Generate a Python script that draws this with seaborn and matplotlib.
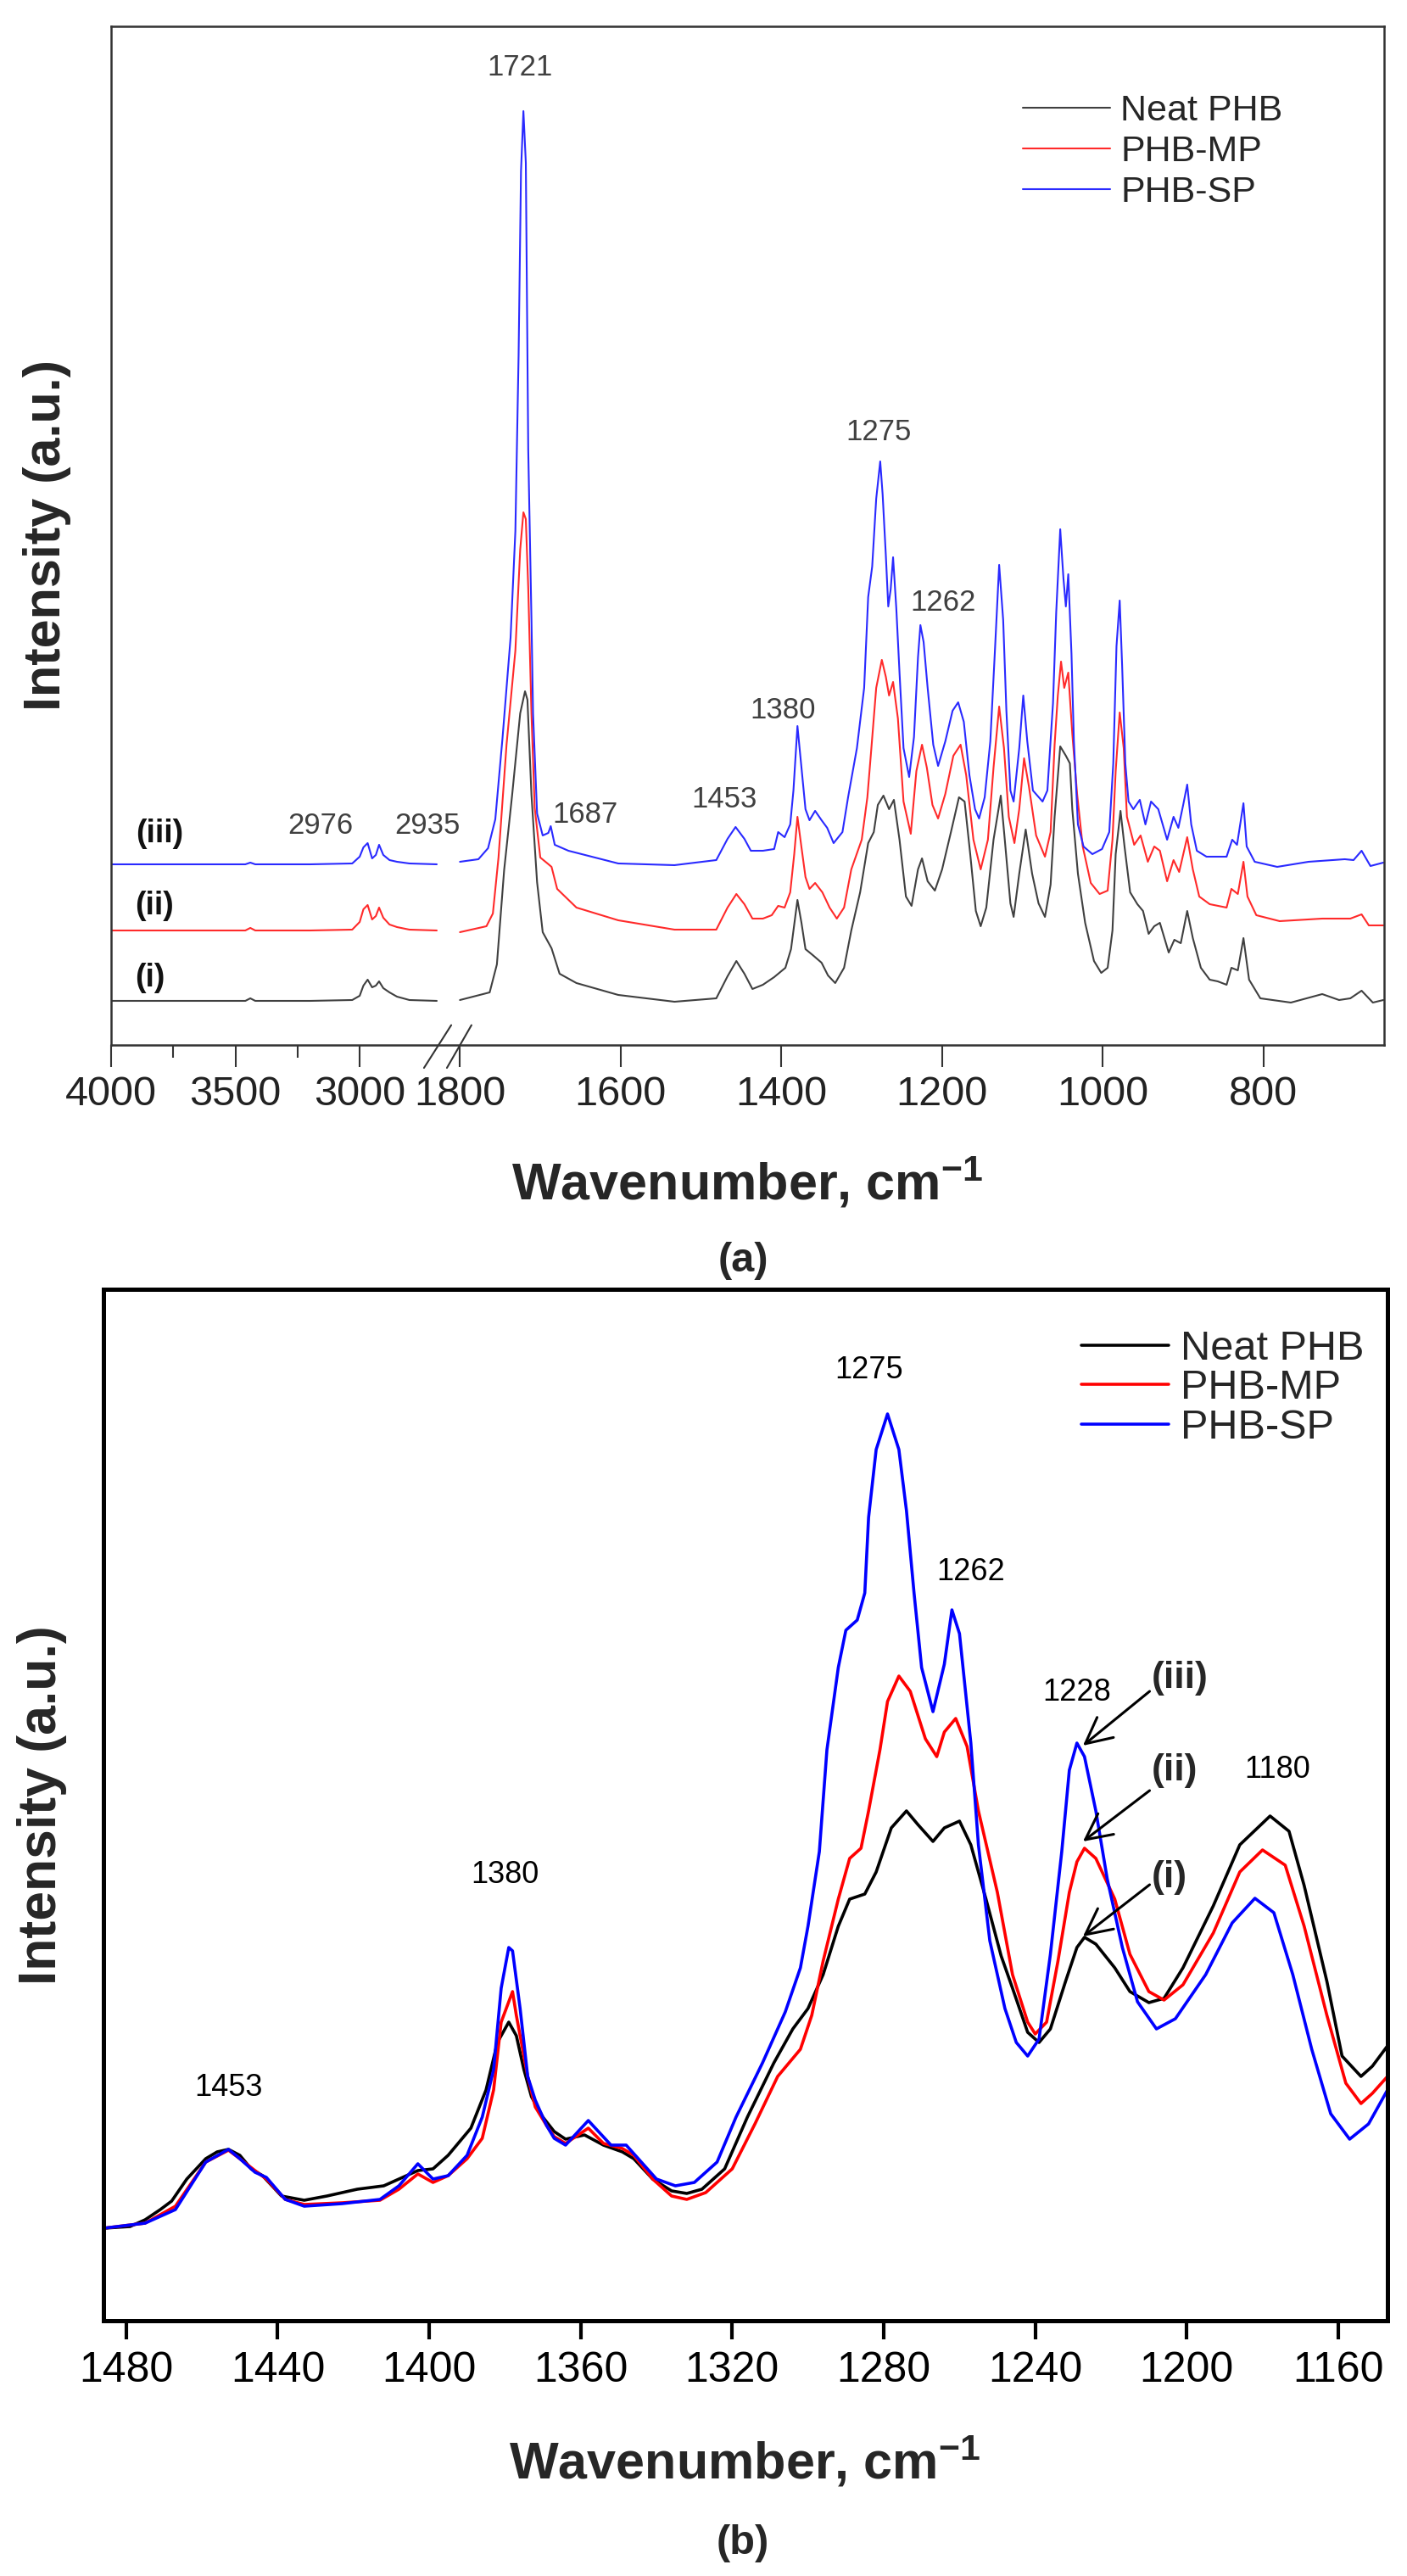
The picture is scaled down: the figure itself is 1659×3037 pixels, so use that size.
import numpy as np
import pandas as pd
import seaborn as sns
import matplotlib.pyplot as plt

SAMPLES = ["Neat PHB", "PHB-MP", "PHB-SP"]

# ---- panel (a): full spectra (a.u.) ----
# left part of the broken axis (4000 - ~2700 cm-1)
A_LEFT_WN = [4000, 3700, 3460, 3440, 3420, 3200, 3030, 3000, 2985, 2968,
             2950, 2935, 2922, 2905, 2880, 2850, 2800, 2690]
A_LEFT_NEAT = [0.52, 0.52, 0.52, 0.55, 0.52, 0.52, 0.53, 0.58, 0.70, 0.77,
               0.68, 0.70, 0.75, 0.67, 0.62, 0.57, 0.53, 0.52]
A_LEFT_MP = [1.35, 1.35, 1.35, 1.38, 1.35, 1.35, 1.36, 1.45, 1.60, 1.65,
             1.48, 1.52, 1.62, 1.50, 1.42, 1.39, 1.36, 1.35]
A_LEFT_SP = [2.13, 2.13, 2.13, 2.15, 2.13, 2.13, 2.14, 2.22, 2.33, 2.38,
             2.20, 2.24, 2.36, 2.24, 2.18, 2.16, 2.14, 2.13]

# right part (1800 - 650 cm-1)
A_NEAT_WN = [1800, 1763, 1754, 1745, 1735, 1725, 1719, 1716, 1711, 1704,
             1697, 1686, 1676, 1655, 1603, 1533, 1481, 1467, 1456, 1446,
             1436, 1423, 1409, 1395, 1388, 1380, 1375, 1370, 1361, 1350,
             1342, 1333, 1322, 1313, 1302, 1292, 1285, 1280, 1273, 1266,
             1260, 1253, 1245, 1238, 1230, 1225, 1218, 1209, 1200, 1189,
             1179, 1172, 1165, 1158, 1152, 1145, 1136, 1127, 1122, 1115,
             1111, 1104, 1096, 1088, 1080, 1072, 1065, 1060, 1053, 1046,
             1041, 1038, 1031, 1022, 1011, 1002, 994, 988, 984, 978,
             973, 966, 957, 950, 943, 936, 929, 918, 911, 903,
             895, 888, 878, 867, 857, 846, 840, 832, 825, 818,
             804, 766, 727, 706, 692, 678, 664, 651]
A_NEAT = [0.53, 0.62, 0.95, 2.06, 2.95, 3.91, 4.17, 4.07, 2.95, 1.92,
          1.33, 1.14, 0.84, 0.73, 0.59, 0.51, 0.55, 0.81, 0.99, 0.84,
          0.66, 0.71, 0.80, 0.91, 1.13, 1.71, 1.44, 1.13, 1.06, 0.97,
          0.82, 0.73, 0.91, 1.35, 1.80, 2.38, 2.51, 2.83, 2.94, 2.78,
          2.89, 2.42, 1.75, 1.64, 2.07, 2.20, 1.93, 1.82, 2.07, 2.51,
          2.92, 2.87, 2.25, 1.58, 1.40, 1.62, 2.42, 2.94, 2.42, 1.67,
          1.51, 2.02, 2.54, 2.02, 1.67, 1.51, 1.89, 2.69, 3.52, 3.41,
          3.32, 2.78, 2.02, 1.44, 0.99, 0.85, 0.91, 1.35, 2.25, 2.76,
          2.34, 1.80, 1.66, 1.58, 1.31, 1.40, 1.44, 1.09, 1.24, 1.20,
          1.58, 1.26, 0.91, 0.77, 0.75, 0.71, 0.91, 0.88, 1.26, 0.77,
          0.55, 0.50, 0.60, 0.53, 0.55, 0.64, 0.50, 0.53]

A_MP_WN = [1800, 1767, 1759, 1752, 1742, 1731, 1725, 1721, 1718, 1715,
           1711, 1707, 1700, 1691, 1686, 1679, 1655, 1603, 1533, 1481,
           1467, 1456, 1446, 1436, 1423, 1412, 1404, 1396, 1389, 1384,
           1380, 1375, 1370, 1365, 1358, 1349, 1340, 1331, 1322, 1313,
           1300, 1293, 1288, 1282, 1275, 1270, 1266, 1261, 1255, 1248,
           1239, 1232, 1225, 1219, 1212, 1205, 1196, 1186, 1177, 1170,
           1161, 1152, 1143, 1136, 1129, 1123, 1117, 1110, 1104, 1098,
           1092, 1083, 1072, 1065, 1060, 1056, 1052, 1048, 1043, 1038,
           1032, 1025, 1015, 1004, 994, 988, 984, 979, 974, 970,
           961, 953, 944, 936, 929, 920, 912, 905, 895, 888,
           880, 867, 846, 840, 832, 825, 820, 809, 780, 727,
           692, 678, 669, 651]
A_MP = [1.33, 1.40, 1.55, 2.21, 3.54, 4.65, 5.84, 6.28, 6.20, 5.39,
        3.91, 2.80, 2.21, 2.14, 2.10, 1.84, 1.62, 1.47, 1.36, 1.36,
        1.62, 1.78, 1.66, 1.49, 1.49, 1.53, 1.64, 1.62, 1.80, 2.25,
        2.69, 2.33, 1.98, 1.84, 1.91, 1.80, 1.62, 1.49, 1.62, 2.07,
        2.42, 2.92, 3.50, 4.21, 4.54, 4.34, 4.12, 4.28, 3.85, 2.87,
        2.49, 3.23, 3.54, 3.27, 2.83, 2.67, 2.96, 3.41, 3.54, 3.18,
        2.42, 2.07, 2.42, 3.27, 3.99, 3.50, 2.69, 2.38, 2.78, 3.38,
        3.05, 2.47, 2.22, 2.51, 3.54, 4.12, 4.52, 4.21, 4.39, 3.67,
        2.96, 2.34, 1.91, 1.78, 1.82, 2.42, 3.23, 3.92, 3.50, 2.69,
        2.36, 2.47, 2.16, 2.34, 2.29, 1.93, 2.18, 2.04, 2.45, 2.07,
        1.75, 1.66, 1.62, 1.84, 1.78, 2.16, 1.75, 1.53, 1.46, 1.49,
        1.49, 1.54, 1.41, 1.41]

A_SP_WN = [1800, 1777, 1765, 1756, 1747, 1737, 1731, 1727, 1724, 1721,
           1718, 1715, 1711, 1709, 1704, 1697, 1690, 1687, 1682, 1665,
           1603, 1533, 1481, 1467, 1457, 1446, 1438, 1423, 1409, 1404,
           1396, 1389, 1385, 1380, 1375, 1370, 1365, 1358, 1350, 1343,
           1335, 1324, 1317, 1306, 1297, 1292, 1287, 1282, 1277, 1274,
           1270, 1267, 1264, 1261, 1257, 1253, 1248, 1241, 1235, 1230,
           1227, 1223, 1218, 1211, 1205, 1196, 1187, 1180, 1173, 1166,
           1159, 1154, 1147, 1140, 1134, 1129, 1124, 1120, 1115, 1111,
           1104, 1099, 1094, 1087, 1075, 1069, 1062, 1058, 1053, 1049,
           1046, 1043, 1039, 1036, 1031, 1024, 1013, 1001, 992, 987,
           983, 979, 976, 972, 968, 962, 954, 947, 940, 931,
           920, 912, 906, 900, 895, 890, 883, 871, 846, 839,
           833, 825, 821, 811, 783, 744, 699, 688, 678, 667,
           651]
A_SP = [2.16, 2.19, 2.32, 2.66, 3.62, 4.80, 6.06, 8.13, 10.30, 11.01,
        10.40, 7.02, 5.02, 3.91, 2.73, 2.47, 2.50, 2.58, 2.36, 2.29,
        2.14, 2.12, 2.18, 2.43, 2.57, 2.43, 2.29, 2.29, 2.31, 2.51,
        2.45, 2.60, 3.00, 3.76, 3.27, 2.78, 2.65, 2.76, 2.65, 2.56,
        2.38, 2.51, 2.92, 3.50, 4.21, 5.28, 5.64, 6.44, 6.88, 6.49,
        5.77, 5.17, 5.37, 5.75, 5.15, 4.39, 3.50, 3.16, 3.63, 4.57,
        4.95, 4.75, 4.21, 3.54, 3.29, 3.58, 3.94, 4.04, 3.81, 3.18,
        2.78, 2.67, 2.92, 3.58, 4.70, 5.66, 5.01, 3.94, 3.00, 2.87,
        3.50, 4.12, 3.58, 3.00, 2.87, 3.00, 4.03, 5.10, 6.08, 5.50,
        5.17, 5.55, 4.61, 3.58, 2.60, 2.34, 2.25, 2.31, 2.51, 3.32,
        4.70, 5.24, 4.48, 3.32, 2.87, 2.78, 2.89, 2.60, 2.87, 2.78,
        2.42, 2.69, 2.56, 2.83, 3.07, 2.60, 2.29, 2.22, 2.22, 2.42,
        2.36, 2.85, 2.34, 2.16, 2.10, 2.16, 2.19, 2.18, 2.29, 2.11,
        2.15]

A_TICKS = [4000, 3500, 3000, 1800, 1600, 1400, 1200, 1000, 800]
A_MINOR = [3750, 3250]
A_PEAKS = ["1721", "1275", "1262", "1380", "1453", "1687", "2976", "2935"]
A_PEAK_X = [1725, 1279, 1199, 1398, 1471, 1644, 3159, 2726]
A_PEAK_Y = [11.52, 7.22, 5.21, 3.94, 2.89, 2.71, 2.58, 2.58]
A_CURVE_TAGS = ["(iii)", "(ii)", "(i)"]
A_TAG_X = [3806, 3826, 3844]
A_TAG_Y = [2.49, 1.64, 0.79]

# ---- panel (b): zoom 1486 - 1147 cm-1 ----
B_NEAT_WN = [1486, 1479, 1475, 1471, 1468, 1464, 1459, 1456, 1453, 1450,
             1447, 1444, 1439, 1433, 1427, 1419, 1412, 1406, 1403, 1399,
             1395, 1389, 1385, 1382, 1379, 1377, 1375, 1373, 1370, 1367,
             1364, 1359, 1354, 1349, 1346, 1341, 1336, 1332, 1328, 1322,
             1316, 1309, 1304, 1300, 1296, 1292, 1289, 1285, 1282, 1278,
             1274, 1271, 1267, 1264, 1260, 1257, 1253, 1249, 1246, 1242,
             1239, 1236, 1232, 1229, 1227, 1224, 1219, 1215, 1210, 1206,
             1201, 1193, 1186, 1178, 1173, 1169, 1163, 1159, 1154, 1151,
             1147]
B_NEAT = [1.09, 1.11, 1.19, 1.31, 1.41, 1.67, 1.91, 1.99, 2.02, 1.95,
          1.79, 1.71, 1.47, 1.42, 1.47, 1.55, 1.59, 1.71, 1.77, 1.79,
          1.95, 2.27, 2.72, 3.28, 3.52, 3.36, 2.96, 2.64, 2.40, 2.23,
          2.14, 2.19, 2.07, 1.99, 1.91, 1.67, 1.53, 1.50, 1.55, 1.79,
          2.40, 3.04, 3.44, 3.68, 4.08, 4.65, 4.97, 5.03, 5.29, 5.81,
          6.01, 5.85, 5.65, 5.81, 5.89, 5.61, 4.97, 4.30, 3.92, 3.40,
          3.28, 3.44, 4.00, 4.40, 4.52, 4.44, 4.16, 3.88, 3.75, 3.80,
          4.16, 4.89, 5.61, 5.95, 5.77, 5.13, 4.00, 3.12, 2.88, 3.00,
          3.24]

B_MP_WN = [1486, 1475, 1467, 1459, 1453, 1450, 1446, 1443, 1438, 1433,
           1423, 1413, 1408, 1403, 1399, 1395, 1390, 1386, 1383, 1381,
           1378, 1377, 1374, 1372, 1369, 1367, 1364, 1358, 1354, 1349,
           1346, 1341, 1336, 1332, 1327, 1320, 1314, 1308, 1302, 1299,
           1296, 1292, 1289, 1286, 1284, 1281, 1279, 1276, 1273, 1269,
           1266, 1264, 1261, 1258, 1255, 1250, 1246, 1242, 1240, 1237,
           1234, 1231, 1229, 1227, 1224, 1219, 1215, 1210, 1206, 1201,
           1193, 1186, 1180, 1174, 1169, 1163, 1158, 1154, 1151, 1147]
B_MP = [1.09, 1.15, 1.35, 1.87, 2.01, 1.91, 1.77, 1.67, 1.43, 1.37,
        1.39, 1.42, 1.55, 1.73, 1.63, 1.71, 1.91, 2.15, 2.72, 3.52,
        3.88, 3.60, 2.88, 2.52, 2.30, 2.17, 2.09, 2.27, 2.09, 2.03,
        1.95, 1.67, 1.47, 1.43, 1.51, 1.79, 2.32, 2.88, 3.20, 3.60,
        4.24, 4.97, 5.45, 5.57, 6.01, 6.73, 7.30, 7.60, 7.42, 6.86,
        6.65, 6.94, 7.10, 6.77, 6.01, 5.05, 4.08, 3.52, 3.38, 3.52,
        4.24, 5.05, 5.41, 5.57, 5.45, 4.97, 4.32, 3.88, 3.78, 3.96,
        4.57, 5.29, 5.55, 5.37, 4.65, 3.60, 2.80, 2.56, 2.68, 2.88]

B_SP_WN = [1486, 1475, 1467, 1459, 1453, 1450, 1446, 1443, 1438, 1433,
           1423, 1413, 1408, 1403, 1399, 1395, 1390, 1386, 1383, 1381,
           1379, 1378, 1376, 1374, 1372, 1369, 1367, 1364, 1358, 1352,
           1348, 1344, 1340, 1335, 1330, 1324, 1319, 1312, 1306, 1302,
           1300, 1297, 1295, 1292, 1290, 1287, 1285, 1284, 1282, 1279,
           1276, 1274, 1272, 1270, 1267, 1264, 1262, 1260, 1257, 1255,
           1252, 1248, 1245, 1242, 1239, 1236, 1233, 1231, 1229, 1227,
           1224, 1221, 1217, 1213, 1208, 1203, 1195, 1188, 1182, 1177,
           1172, 1167, 1162, 1157, 1152, 1147]
B_SP = [1.09, 1.15, 1.31, 1.87, 2.02, 1.91, 1.75, 1.69, 1.43, 1.35,
        1.38, 1.43, 1.59, 1.85, 1.67, 1.71, 1.95, 2.40, 2.96, 3.92,
        4.40, 4.36, 3.68, 2.88, 2.60, 2.30, 2.15, 2.07, 2.36, 2.07,
        2.07, 1.87, 1.67, 1.59, 1.63, 1.87, 2.40, 3.04, 3.64, 4.16,
        4.65, 5.53, 6.73, 7.70, 8.14, 8.26, 8.58, 9.47, 10.27, 10.69,
        10.27, 9.55, 8.58, 7.70, 7.18, 7.74, 8.38, 8.10, 6.81, 5.61,
        4.48, 3.68, 3.28, 3.12, 3.32, 4.32, 5.53, 6.49, 6.81, 6.65,
        6.01, 5.21, 4.40, 3.76, 3.44, 3.56, 4.08, 4.69, 4.98, 4.81,
        4.08, 3.20, 2.44, 2.14, 2.32, 2.72]

B_TICKS = [1480, 1440, 1400, 1360, 1320, 1280, 1240, 1200, 1160]
B_PEAKS = ["1453", "1380", "1275", "1262", "1228", "1180"]
B_PEAK_X = [1453, 1380, 1284, 1257, 1229, 1176]
B_PEAK_Y = [2.74, 5.25, 11.20, 8.82, 7.40, 6.49]
B_TAGS = ["(iii)", "(ii)", "(i)"]
B_TAG_X = [1209.4, 1209.4, 1209.4]
B_TAG_Y = [7.57, 6.48, 5.22]
B_ARROW_TAIL_Y = [7.42, 6.25, 5.14]
B_ARROW_HEAD_Y = [6.78, 5.65, 4.53]

# broken axis of panel (a): 4000-2640 squeezed, gap collapsed, 1812-650 wide
B_LO, B_HI = 1812.5, 2640.0
K_LEFT, K_RIGHT, EPS = 0.2935, 0.9488, 1e-3
GAP = (B_HI - B_LO) * EPS


def fwd(w):
    w = np.asarray(w, dtype=float)
    return np.where(w >= B_HI, GAP + (w - B_HI) * K_LEFT,
                    np.where(w > B_LO, (w - B_LO) * EPS, (w - B_LO) * K_RIGHT))


def inv(u):
    u = np.asarray(u, dtype=float)
    return np.where(u >= GAP, B_HI + (u - GAP) / K_LEFT,
                    np.where(u > 0, B_LO + u / EPS, B_LO + u / K_RIGHT))


def long_frame(parts):
    rows = []
    for sample, seg, wn, vals in parts:
        for w, v in zip(wn, vals):
            rows.append((sample, seg, w, v))
    return pd.DataFrame(rows, columns=["sample", "seg", "wn", "intensity"])


df_a = long_frame([
    ("Neat PHB", 0, A_LEFT_WN, A_LEFT_NEAT), ("Neat PHB", 1, A_NEAT_WN, A_NEAT),
    ("PHB-MP", 0, A_LEFT_WN, A_LEFT_MP), ("PHB-MP", 1, A_MP_WN, A_MP),
    ("PHB-SP", 0, A_LEFT_WN, A_LEFT_SP), ("PHB-SP", 1, A_SP_WN, A_SP),
])
df_b = long_frame([
    ("Neat PHB", 0, B_NEAT_WN, B_NEAT),
    ("PHB-MP", 0, B_MP_WN, B_MP),
    ("PHB-SP", 0, B_SP_WN, B_SP),
])

sns.set_theme(style="ticks")
plt.rcParams["font.family"] = ["Liberation Sans", "DejaVu Sans"]
plt.rcParams["mathtext.fontset"] = "custom"
plt.rcParams["mathtext.rm"] = "Liberation Sans"
plt.rcParams["mathtext.bf"] = "Liberation Sans:bold"
plt.rcParams["mathtext.it"] = "Liberation Sans:italic"

fig = plt.figure(figsize=(16.59, 30.37), dpi=100)
ax_a = fig.add_axes([0.07896, 0.59434, 0.90476, 0.39546])
ax_b = fig.add_axes([0.07354, 0.09911, 0.91260, 0.40040])

# ---------------- panel (a) ----------------
pal_a = {"Neat PHB": "#404040", "PHB-MP": "#ff2a2a", "PHB-SP": "#2a2aff"}
sns.lineplot(data=df_a, x="wn", y="intensity", hue="sample", hue_order=SAMPLES,
             units="seg", estimator=None, sort=False, palette=pal_a,
             linewidth=1.5, ax=ax_a)
ax_a.set_xscale("function", functions=(fwd, inv))
ax_a.set_xlim(4000, 650)
ax_a.set_ylim(0, 12.01)
ax_a.set_xticks(A_TICKS)
ax_a.set_xticklabels([str(t) for t in A_TICKS])
ax_a.set_xticks(A_MINOR, minor=True)
ax_a.set_yticks([])
ax_a.tick_params(axis="x", which="major", direction="out", length=19, width=1.5,
                 pad=7, labelsize=35, color="#333333", labelcolor="#222222")
ax_a.tick_params(axis="x", which="minor", direction="out", length=11, width=1.5,
                 color="#333333")
for sp in ax_a.spines.values():
    sp.set_linewidth(1.8)
    sp.set_color("#333333")

ax_a.set_xlabel(r"Wavenumber, cm$^{\mathbf{-1}}$", fontsize=44, fontweight="bold")
ax_a.xaxis.label.set_va("center")
ax_a.xaxis.set_label_coords(0.5, -0.1357)
ax_a.set_ylabel("Intensity (a.u.)", fontsize=44, fontweight="bold")
ax_a.yaxis.label.set_va("center")
ax_a.yaxis.set_label_coords(-0.0506, 0.5)

for lab, x, y in zip(A_PEAKS, A_PEAK_X, A_PEAK_Y):
    ax_a.text(x, y, lab, fontsize=25, color="#404040", ha="center", va="center")
for lab, x, y in zip(A_CURVE_TAGS, A_TAG_X, A_TAG_Y):
    ax_a.text(x, y, lab, fontsize=27, fontweight="bold", color="#111111",
              ha="center", va="center")

# break marks on the bottom axis
for x0, x1 in [(0.2458, 0.2672), (0.2638, 0.2831)]:
    ax_a.plot([x0, x1], [-0.0225, 0.0195], transform=ax_a.transAxes,
              color="#333333", lw=1.5, clip_on=False)

sns.move_legend(ax_a, "upper left", bbox_to_anchor=(0.7162, 0.9334),
                frameon=False, title=None, fontsize=31, borderpad=0,
                borderaxespad=0, handlelength=2.4, handletextpad=0.28,
                labelspacing=0.19)

# ---------------- panel (b) ----------------
pal_b = {"Neat PHB": "#000000", "PHB-MP": "#ff0000", "PHB-SP": "#0000ff"}
sns.lineplot(data=df_b, x="wn", y="intensity", hue="sample", hue_order=SAMPLES,
             estimator=None, sort=False, palette=pal_b, linewidth=2.6, ax=ax_b)
ax_b.set_xlim(1486, 1147)
ax_b.set_ylim(0, 12.16)
ax_b.set_xticks(B_TICKS)
ax_b.set_xticklabels([str(t) for t in B_TICKS])
ax_b.set_yticks([])
ax_b.tick_params(axis="x", direction="out", length=16, width=3, pad=10,
                 labelsize=36, color="black", labelcolor="black")
for sp in ax_b.spines.values():
    sp.set_linewidth(3.6)
    sp.set_color("black")

ax_b.set_xlabel(r"Wavenumber, cm$^{\mathbf{-1}}$", fontsize=44, fontweight="bold")
ax_b.xaxis.label.set_va("center")
ax_b.xaxis.set_label_coords(0.4993, -0.1373)
ax_b.set_ylabel("Intensity (a.u.)", fontsize=45, fontweight="bold")
ax_b.yaxis.label.set_va("center")
ax_b.yaxis.set_label_coords(-0.0476, 0.5)

for lab, x, y in zip(B_PEAKS, B_PEAK_X, B_PEAK_Y):
    ax_b.text(x, y, lab, fontsize=26, color="black", ha="center", va="center")
for lab, x, y, ty, hy in zip(B_TAGS, B_TAG_X, B_TAG_Y, B_ARROW_TAIL_Y, B_ARROW_HEAD_Y):
    ax_b.text(x, y, lab, fontsize=32, fontweight="bold", ha="left", va="center")
    ax_b.annotate("", xy=(1227.4, hy), xytext=(1209.8, ty),
                  arrowprops=dict(arrowstyle="->", color="black", lw=2.2,
                                  mutation_scale=55, shrinkA=0, shrinkB=0))

sns.move_legend(ax_b, "upper left", bbox_to_anchor=(0.7616, 0.9605),
                frameon=False, title=None, fontsize=35, borderpad=0,
                borderaxespad=0, handlelength=2.12, handletextpad=0.29,
                labelspacing=0.03)

fig.text(0.528, 0.5104, "(a)", fontsize=35, fontweight="bold", ha="center", va="center")
fig.text(0.528, 0.0128, "(b)", fontsize=35, fontweight="bold", ha="center", va="center")

fig.savefig("out.png", dpi=100)
